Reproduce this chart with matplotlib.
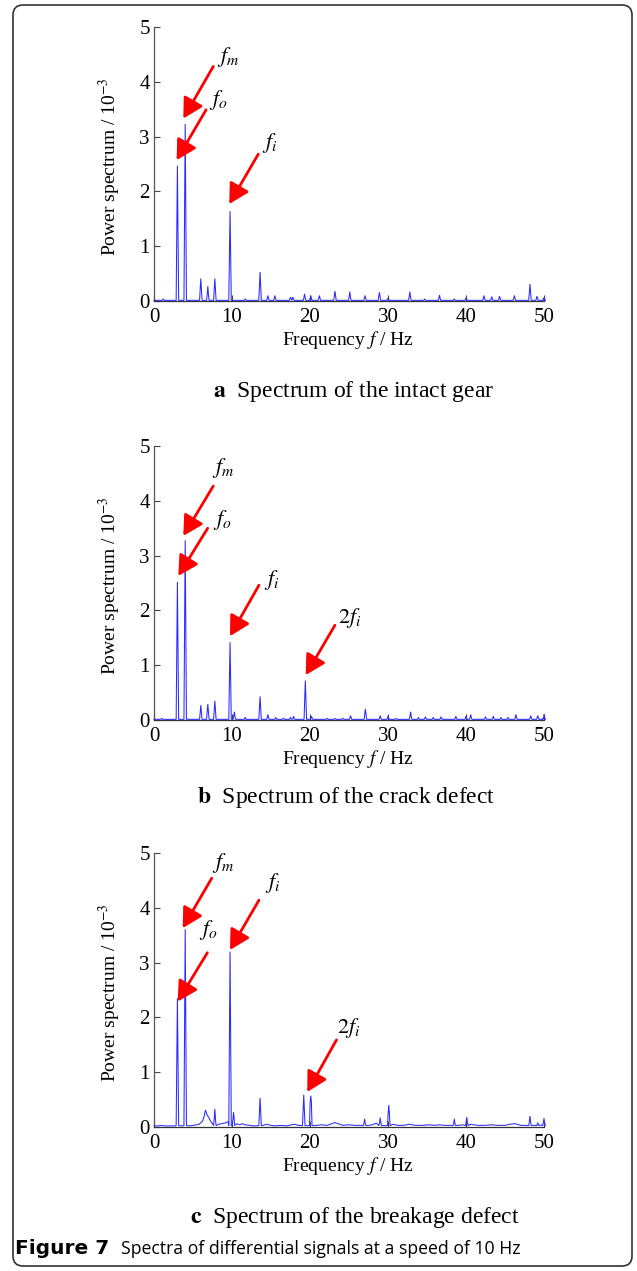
import numpy as np
import matplotlib
matplotlib.use("Agg")
import matplotlib.pyplot as plt
from matplotlib.patches import FancyBboxPatch
from matplotlib.transforms import IdentityTransform

plt.rcParams['font.family'] = ['Liberation Serif', 'DejaVu Serif']
plt.rcParams['mathtext.fontset'] = 'stix'

# ---------------- spectra (frequency in Hz, power in 1e-3) ----------------
# (a) intact gear
a_freq = [1.2, 3.0, 4.0, 6.0, 6.9, 7.8, 9.75, 11.7, 13.6, 14.6, 15.5, 17.5, 17.8,
          19.3, 20.1, 21.2, 23.2, 25.1, 27.05, 28.9, 30.0, 32.8, 34.7, 36.6, 38.5,
          40.0, 42.3, 43.3, 44.3, 46.2, 48.2, 49.1, 50.0]
a_peak = [0.04, 2.47, 3.23, 0.41, 0.27, 0.41, 1.64, 0.04, 0.53, 0.10, 0.10, 0.07, 0.07,
          0.13, 0.10, 0.10, 0.18, 0.17, 0.10, 0.16, 0.05, 0.17, 0.04, 0.11, 0.04,
          0.06, 0.10, 0.08, 0.09, 0.10, 0.31, 0.09, 0.07]
a_side = [0.02, 1.23, 1.60, 0.20, 0.12, 0.20, 0.80, 0.02, 0.26, 0.05, 0.05, 0.04, 0.04,
          0.06, 0.05, 0.05, 0.09, 0.08, 0.05, 0.08, 0.03, 0.08, 0.02, 0.05, 0.02,
          0.03, 0.05, 0.04, 0.04, 0.05, 0.15, 0.04, 0.04]
a_floor = 0.012

# (b) crack defect
b_freq = [1.0, 3.0, 4.0, 6.0, 6.9, 7.8, 9.75, 10.3, 11.7, 13.6, 14.6, 15.6, 16.6,
          17.5, 17.9, 19.4, 20.2, 22.2, 23.2, 24.2, 25.2, 27.1, 29.0, 30.0, 31.0,
          32.9, 33.9, 34.8, 35.8, 36.8, 38.7, 40.0, 40.6, 42.5, 43.5, 44.5, 45.4,
          46.4, 48.3, 49.2, 50.0]
b_peak = [0.03, 2.52, 3.28, 0.27, 0.29, 0.35, 1.42, 0.15, 0.05, 0.43, 0.10, 0.05, 0.03,
          0.05, 0.07, 0.72, 0.07, 0.03, 0.03, 0.03, 0.08, 0.20, 0.08, 0.07, 0.03,
          0.15, 0.05, 0.06, 0.05, 0.06, 0.07, 0.07, 0.10, 0.06, 0.07, 0.05, 0.05,
          0.10, 0.08, 0.08, 0.10]
b_side = [0.02, 1.25, 1.64, 0.13, 0.14, 0.17, 0.70, 0.07, 0.02, 0.21, 0.05, 0.02, 0.02,
          0.02, 0.03, 0.35, 0.03, 0.02, 0.02, 0.02, 0.04, 0.10, 0.04, 0.03, 0.02,
          0.07, 0.02, 0.03, 0.02, 0.03, 0.03, 0.03, 0.05, 0.03, 0.03, 0.02, 0.02,
          0.05, 0.04, 0.04, 0.05]
b_floor = 0.012

# (c) breakage defect
c_freq = [3.0, 4.0, 7.8, 9.75, 10.2, 13.6, 19.2, 20.1, 27.0, 29.0, 30.1, 38.5,
          40.1, 48.2, 49.2, 50.0]
c_peak = [2.35, 3.61, 0.33, 3.20, 0.27, 0.53, 0.59, 0.57, 0.15, 0.17, 0.40, 0.15,
          0.18, 0.20, 0.08, 0.16]
c_side = [1.19, 1.83, 0.15, 1.65, 0.14, 0.26, 0.30, 0.45, 0.07, 0.08, 0.25, 0.07,
          0.09, 0.10, 0.04, 0.08]
c_floor = 0.025
c_noise_freq = [0.0, 0.5, 1.0, 1.3, 2.0, 2.6, 3.5, 4.5, 5.0, 5.5, 5.8, 6.0, 6.2, 6.4,
                6.6, 6.8, 7.0, 7.2, 7.4, 8.3, 8.7, 9.0, 9.3, 9.5, 10.6, 11.0, 11.3,
                11.7, 12.2, 12.8, 14.0, 14.4, 15.0, 15.5, 16.2, 17.0, 17.6, 18.0, 18.5,
                20.8, 21.5, 22.2, 22.6, 23.2, 23.6, 24.2, 25.0, 25.8, 26.5, 27.5, 28.0,
                28.5, 30.7, 31.2, 32.0, 32.7, 33.5, 34.5, 35.2, 36.0, 36.6, 37.2, 38.0,
                39.0, 39.6, 40.6, 41.5, 42.3, 43.3, 44.0, 45.0, 45.6, 46.3, 47.0, 47.6,
                48.7, 49.6]
c_noise_val = [0.02, 0.02, 0.03, 0.02, 0.02, 0.02, 0.02, 0.02, 0.03, 0.04, 0.05, 0.08, 0.10, 0.18,
               0.31, 0.22, 0.18, 0.12, 0.08, 0.05, 0.06, 0.07, 0.08, 0.10, 0.06, 0.04, 0.06,
               0.04, 0.03, 0.02, 0.03, 0.05, 0.03, 0.02, 0.03, 0.02, 0.04, 0.05, 0.03,
               0.03, 0.04, 0.03, 0.05, 0.08, 0.06, 0.03, 0.04, 0.03, 0.03, 0.03, 0.04,
               0.07, 0.05, 0.03, 0.03, 0.05, 0.03, 0.03, 0.04, 0.03, 0.04, 0.03, 0.03,
               0.03, 0.04, 0.05, 0.03, 0.03, 0.04, 0.03, 0.03, 0.05, 0.06, 0.03, 0.03,
               0.03, 0.04]

x_ticks = [0, 10, 20, 30, 40, 50]
y_ticks = [0, 1, 2, 3, 4, 5]

captions = ["Spectrum of the intact gear",
            "Spectrum of the crack defect",
            "Spectrum of the breakage defect"]
caption_tags = ["a", "b", "c"]

# ---------------- layout (pixels) ----------------
W, H, DPI = 637, 1271, 100
fig = plt.figure(figsize=(W / DPI, H / DPI), dpi=DPI)
fig.patch.set_facecolor('white')

AX_LEFT, AX_RIGHT = 154, 544
panel_tops = [27, 446, 853]
panel_bottoms = [301, 720, 1127]
caption_y = [392, 798, 1217]
caption_x = [354, 346, 355]

D = 0.08  # half bin width used to draw each spectral line


def line_points(freq, peak, side, floor, noise_f=None, noise_v=None):
    pts = []
    if noise_f is not None:
        for f, v in zip(noise_f, noise_v):
            if all(abs(f - p) > 2.5 * D for p in freq):
                pts.append((f, v))
    else:
        pts += [(0.0, floor), (50.0, floor)]
    for f, p, s in zip(freq, peak, side):
        pts += [(f - 2 * D, floor), (f - D, s), (f, p), (f + D, s), (f + 2 * D, floor)]
    pts.sort(key=lambda t: t[0])
    xs = np.array([t[0] for t in pts])
    ys = np.array([t[1] for t in pts])
    return xs, ys


spectra = [
    line_points(a_freq, a_peak, a_side, a_floor),
    line_points(b_freq, b_peak, b_side, b_floor),
    line_points(c_freq, c_peak, c_side, c_floor, c_noise_freq, c_noise_val),
]

# annotation layout: (text, label xy, arrow tail xy, arrow tip xy) in data units
annotations = [
    [(r'$f_m$', (9.5, 4.45), (7.6, 4.28), (3.76, 3.33)),
     (r'$f_o$', (8.2, 3.67), (6.68, 3.49), (2.9, 2.57)),
     (r'$f_i$', (14.9, 2.88), (13.37, 2.68), (9.65, 1.77))],
    [(r'$f_m$', (8.9, 4.6), (7.6, 4.27), (3.76, 3.36)),
     (r'$f_o$', (8.8, 3.65), (6.88, 3.5), (3.12, 2.63)),
     (r'$f_i$', (15.1, 2.55), (13.46, 2.46), (9.74, 1.53)),
     (r'$\mathit{2}f_i$', (25.1, 1.86), (23.2, 1.73), (19.45, 0.82))],
    [(r'$f_m$', (8.9, 4.81), (7.4, 4.54), (3.68, 3.63)),
     (r'$f_o$', (6.96, 3.6), (6.84, 3.18), (3.04, 2.29)),
     (r'$f_i$', (15.2, 4.45), (13.46, 4.14), (9.74, 3.23)),
     (r'$\mathit{2}f_i$', (24.9, 1.8), (23.4, 1.59), (19.65, 0.64))],
]

for i in range(3):
    top, bot = panel_tops[i], panel_bottoms[i]
    ax = fig.add_axes([AX_LEFT / W, 1 - bot / H, (AX_RIGHT - AX_LEFT) / W, (bot - top) / H])
    xs, ys = spectra[i]
    ax.plot(xs, ys, color='#2a2aff', lw=0.75, solid_joinstyle='miter', clip_on=False, zorder=3)
    ax.set_xlim(0, 50)
    ax.set_ylim(0, 5)
    ax.set_xticks(x_ticks)
    ax.set_yticks(y_ticks)
    for side in ('top', 'right'):
        ax.spines[side].set_visible(False)
    ax.spines['left'].set_color('#555555')
    ax.spines['bottom'].set_color('#333333')
    ax.spines['left'].set_linewidth(0.9)
    ax.spines['bottom'].set_linewidth(0.9)
    ax.tick_params(direction='in', length=4, width=0.8, colors='#444444',
                   labelcolor='black', labelsize=15)
    ax.tick_params(axis='x', pad=5)
    ax.tick_params(axis='y', pad=3)
    ax.set_xlabel(r'Frequency $f$ / Hz', fontsize=14, va='center')
    ax.xaxis.set_label_coords(0.497, -0.142)
    ax.set_ylabel(r'Power spectrum / 10$^{-3}$', fontsize=14, va='center')
    ax.yaxis.set_label_coords(-0.113, 0.49)

    for text, lab, tail, tip in annotations[i]:
        ax.annotate('', xy=tip, xytext=tail,
                    arrowprops=dict(arrowstyle='-|>,head_length=1.0,head_width=0.55',
                                    color='#ff0000', lw=2, mutation_scale=12,
                                    shrinkA=0, shrinkB=0), zorder=5)
        ax.text(lab[0], lab[1], text, fontsize=16, ha='center', va='center', zorder=6)

    fig.text(caption_x[i] / W, 1 - caption_y[i] / H,
             r'$\mathbf{%s}$  %s' % (caption_tags[i], captions[i]),
             fontsize=17, ha='center', va='center')

# figure caption in sans serif
t_bold = fig.text(15 / W, 1 - 1249 / H, 'Figure 7', family=['DejaVu Sans'],
                  fontweight='bold', fontsize=14.5, ha='left', va='center')
fig.canvas.draw()
bb = t_bold.get_window_extent()
fig.text((bb.x1 + 12) / W, 1 - 1249 / H,
         'Spectra of differential signals at a speed of 10 Hz',
         family=['Open Sans', 'DejaVu Sans'],
         fontsize=12.7, ha='left', va='center')

# rounded frame
frame = FancyBboxPatch((13, 5), 619, 1261, boxstyle='round,pad=0,rounding_size=10',
                       transform=IdentityTransform(), fill=False,
                       edgecolor='#333333', lw=1.2)
fig.add_artist(frame)

fig.savefig('out.png', dpi=DPI)
